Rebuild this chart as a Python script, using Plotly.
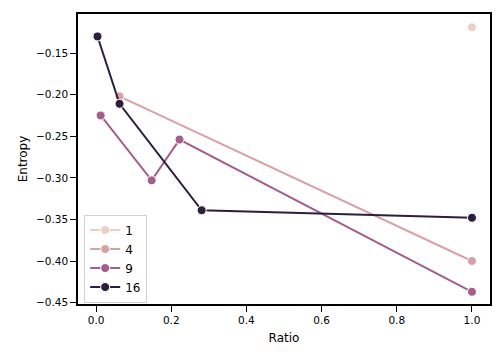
import plotly.graph_objects as go

hue_levels = ["1", "4", "9", "16"]
colors = ["#ebcfc5", "#d9a0a8", "#a35f8b", "#2d1e3e"]

ratio_1 = [1.0]
entropy_1 = [-0.119]

ratio_4 = [0.0625, 1.0]
entropy_4 = [-0.202, -0.400]

ratio_9 = [0.0123, 0.148, 0.222, 1.0]
entropy_9 = [-0.225, -0.303, -0.254, -0.437]

ratio_16 = [0.0039, 0.0625, 0.281, 1.0]
entropy_16 = [-0.130, -0.211, -0.339, -0.348]

series = [
    (ratio_1, entropy_1),
    (ratio_4, entropy_4),
    (ratio_9, entropy_9),
    (ratio_16, entropy_16),
]

fig = go.Figure()
for name, color, (xs, ys) in zip(hue_levels, colors, series):
    fig.add_trace(go.Scatter(
        x=xs, y=ys, name=name, mode="lines+markers",
        line=dict(color=color, width=2),
        marker=dict(color=color, size=9, line=dict(color="white", width=1)),
    ))

axis_common = dict(
    showline=True, linecolor="black", linewidth=1.5, mirror=True,
    ticks="outside", ticklen=6, tickwidth=1.25, tickcolor="black",
    showgrid=False, zeroline=False, automargin=False,
    tickfont=dict(family="DejaVu Sans", size=10.5, color="black"),
)

# page body has an 8px margin, so the figure is drawn 8px right/down
fig.update_layout(
    width=496, height=352,
    margin=dict(l=70, r=14, t=6, b=56, autoexpand=False),
    paper_bgcolor="white", plot_bgcolor="white",
    font=dict(family="DejaVu Sans", color="black"),
    xaxis=dict(range=[-0.048, 1.048], tickvals=[0.0, 0.2, 0.4, 0.6, 0.8, 1.0],
               ticktext=["0.0", "0.2", "0.4", "0.6", "0.8", "1.0"],
               title=dict(text="Ratio", font=dict(size=12), standoff=8), **axis_common),
    yaxis=dict(range=[-0.4517, -0.103],
               tickvals=[-0.15, -0.20, -0.25, -0.30, -0.35, -0.40, -0.45],
               ticktext=["\u22120.15", "\u22120.20", "\u22120.25", "\u22120.30",
                         "\u22120.35", "\u22120.40", "\u22120.45"],
               title=dict(text="Entropy", font=dict(size=12), standoff=6), **axis_common),
    legend=dict(x=0.015, y=0.005, xanchor="left", yanchor="bottom",
                bgcolor="rgba(255,255,255,0.8)", bordercolor="#d0d0d0", borderwidth=1,
                font=dict(size=12), itemwidth=30, tracegroupgap=0),
    showlegend=True,
)

fig.write_html("out.html")
